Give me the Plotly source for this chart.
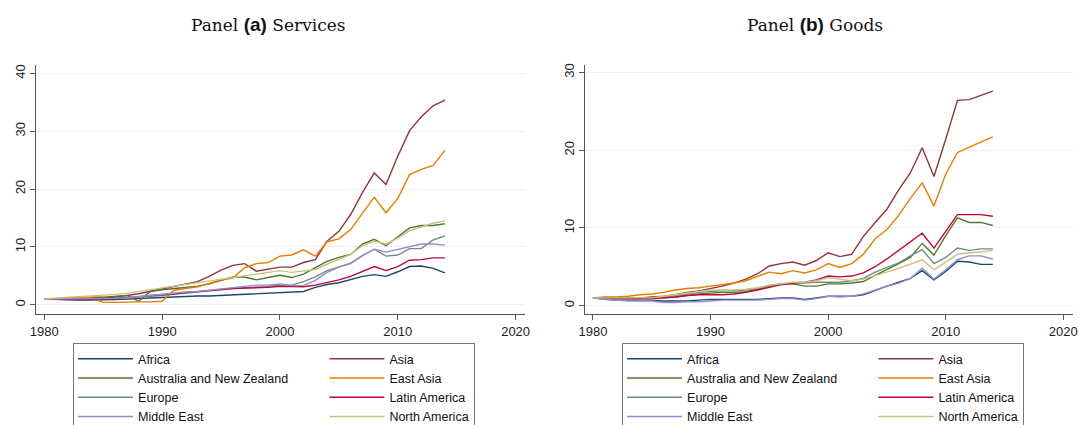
import plotly.graph_objects as go

years = list(range(1980, 2015))

regions = ["Africa", "Asia", "Australia and New Zealand", "East Asia",
           "Europe", "Latin America", "Middle East", "North America"]

colors = ["#1a476f", "#90353b", "#55752f", "#e37e00",
          "#6e8e84", "#c10534", "#938dd2", "#cac27e"]

# Panel (a): services, index 1980 = 1
svc_africa = [1.0, 0.9, 0.8, 0.8, 0.8, 0.8, 0.9, 1.0, 1.1, 1.2, 1.3, 1.3, 1.4, 1.5, 1.5, 1.6, 1.7, 1.8,
              1.9, 2.0, 2.0, 2.1, 2.3, 3.0, 3.5, 3.8, 4.4, 4.9, 5.2, 4.9, 5.7, 6.6, 6.7, 6.3, 5.5]
svc_asia = [1.0, 1.0, 0.9, 0.9, 1.0, 1.1, 1.3, 1.6, 1.9, 2.3, 2.7, 3.1, 3.5, 4.0, 4.9, 6.0, 6.8, 7.1,
            5.8, 6.2, 6.5, 6.5, 7.3, 7.8, 11.0, 12.7, 15.6, 19.4, 22.8, 20.8, 25.7, 30.1, 32.5, 34.4, 35.4]
svc_anz = [1.0, 1.1, 1.1, 1.2, 1.3, 1.3, 1.4, 1.6, 0.6, 2.3, 2.6, 2.8, 3.0, 3.2, 3.6, 4.2, 4.8, 4.8,
           4.3, 4.7, 5.1, 4.7, 5.3, 6.4, 7.5, 8.2, 8.7, 10.5, 11.3, 10.2, 11.8, 13.3, 13.7, 13.7, 14.0]
svc_eastasia = [1.0, 1.1, 1.2, 1.2, 1.2, 0.4, 0.4, 0.5, 0.5, 0.5, 0.6, 2.5, 2.8, 3.1, 3.7, 4.3, 4.6, 6.4,
                7.1, 7.3, 8.4, 8.6, 9.5, 8.4, 10.9, 11.4, 13.0, 15.8, 18.6, 15.9, 18.4, 22.5, 23.4, 24.1, 26.7]
svc_europe = [1.0, 1.0, 1.0, 1.0, 1.0, 1.1, 1.1, 1.2, 1.3, 1.4, 1.6, 1.8, 2.0, 2.2, 2.4, 2.7, 2.8, 2.9,
              3.0, 3.2, 3.4, 3.4, 4.0, 4.8, 5.9, 6.5, 7.2, 8.5, 9.6, 8.4, 8.6, 9.7, 9.7, 11.2, 11.9]
svc_latam = [1.0, 0.9, 0.9, 0.9, 0.9, 1.0, 1.1, 1.2, 1.4, 1.6, 1.7, 1.9, 2.1, 2.3, 2.5, 2.6, 2.8, 2.9,
             2.9, 3.0, 3.2, 3.1, 3.1, 3.4, 3.8, 4.3, 4.9, 5.8, 6.6, 5.9, 6.6, 7.7, 7.8, 8.1, 8.1]
svc_mideast = [1.0, 1.0, 1.0, 1.0, 1.0, 1.1, 1.1, 1.2, 1.4, 1.6, 1.9, 2.0, 2.2, 2.3, 2.5, 2.7, 2.9, 3.1,
               3.4, 3.4, 3.6, 3.3, 3.3, 4.2, 5.6, 6.5, 7.1, 8.5, 9.6, 9.1, 9.6, 10.1, 10.5, 10.5, 10.3]
svc_namerica = [1.0, 1.2, 1.3, 1.4, 1.5, 1.6, 1.8, 2.0, 2.3, 2.6, 2.9, 3.2, 3.4, 3.7, 4.0, 4.3, 4.7, 5.0,
                5.3, 5.6, 5.9, 5.6, 5.8, 6.1, 7.0, 7.9, 8.7, 10.2, 11.0, 10.5, 11.5, 12.8, 13.5, 14.1, 14.5]

# Panel (b): goods, index 1980 = 1
gds_africa = [1.0, 0.8, 0.7, 0.7, 0.7, 0.7, 0.6, 0.6, 0.6, 0.7, 0.8, 0.8, 0.8, 0.8, 0.8, 0.9, 1.0, 1.0,
              0.8, 1.0, 1.2, 1.2, 1.2, 1.4, 2.0, 2.5, 3.0, 3.5, 4.5, 3.3, 4.4, 5.7, 5.6, 5.3, 5.3]
gds_asia = [1.0, 1.0, 1.0, 1.0, 1.0, 1.1, 1.2, 1.4, 1.7, 1.9, 2.2, 2.5, 2.9, 3.4, 4.1, 5.1, 5.4, 5.6,
            5.2, 5.8, 6.8, 6.3, 6.6, 8.9, 10.7, 12.4, 14.9, 17.1, 20.3, 16.6, 21.4, 26.4, 26.5, 27.1, 27.6]
gds_anz = [1.0, 1.0, 0.9, 0.9, 0.9, 1.0, 1.0, 1.1, 1.3, 1.5, 1.6, 1.7, 1.7, 1.8, 2.1, 2.5, 2.7, 2.8,
           2.5, 2.5, 2.8, 2.8, 2.9, 3.1, 3.9, 4.6, 5.4, 6.2, 8.0, 6.5, 9.0, 11.3, 10.7, 10.7, 10.3]
gds_eastasia = [1.0, 1.1, 1.1, 1.2, 1.4, 1.5, 1.7, 2.0, 2.2, 2.3, 2.5, 2.7, 2.9, 3.2, 3.7, 4.3, 4.1, 4.5,
                4.2, 4.6, 5.4, 4.9, 5.4, 6.6, 8.6, 9.8, 11.6, 13.8, 15.8, 12.8, 16.9, 19.7, 20.4, 21.0, 21.7]
gds_europe = [1.0, 1.0, 1.0, 1.0, 1.0, 1.0, 1.1, 1.3, 1.5, 1.7, 1.8, 1.9, 1.9, 2.0, 2.2, 2.6, 2.8, 2.9,
              2.9, 3.0, 3.0, 3.0, 3.2, 3.5, 4.3, 4.9, 5.5, 6.4, 7.2, 5.4, 6.2, 7.4, 7.1, 7.3, 7.3]
gds_latam = [1.0, 1.0, 0.9, 0.9, 0.9, 0.9, 1.0, 1.1, 1.3, 1.4, 1.4, 1.4, 1.5, 1.7, 2.0, 2.4, 2.7, 2.9,
             3.0, 3.3, 3.8, 3.7, 3.8, 4.2, 5.0, 6.0, 7.1, 8.2, 9.3, 7.4, 9.5, 11.7, 11.7, 11.7, 11.5]
gds_mideast = [1.0, 0.8, 0.7, 0.6, 0.6, 0.6, 0.4, 0.4, 0.5, 0.5, 0.6, 0.7, 0.7, 0.7, 0.7, 0.8, 0.9, 0.9,
               0.7, 0.9, 1.2, 1.1, 1.2, 1.5, 2.0, 2.5, 2.9, 3.5, 4.8, 3.4, 4.6, 5.9, 6.4, 6.4, 6.0]
gds_namerica = [1.0, 1.0, 1.0, 1.0, 1.0, 1.0, 1.2, 1.4, 1.6, 1.8, 2.0, 2.0, 2.0, 2.1, 2.3, 2.6, 2.8, 3.0,
                3.0, 3.2, 3.6, 3.4, 3.2, 3.4, 3.8, 4.3, 4.8, 5.4, 5.9, 4.6, 5.6, 6.6, 6.8, 6.9, 7.1]

services = [svc_africa, svc_asia, svc_anz, svc_eastasia, svc_europe, svc_latam, svc_mideast, svc_namerica]
goods = [gds_africa, gds_asia, gds_anz, gds_eastasia, gds_europe, gds_latam, gds_mideast, gds_namerica]

x_ticks = [1980, 1990, 2000, 2010, 2020]
svc_ticks = [0, 10, 20, 30, 40]
gds_ticks = [0, 10, 20, 30]

# left legend column gets extra room before the right column starts
col_pad = "\u00a0" * 9

fig = go.Figure()

for panel, (series, xa, ya, leg) in enumerate([(services, "x", "y", "legend"),
                                              (goods, "x2", "y2", "legend2")]):
    for i, (name, col, vals) in enumerate(zip(regions, colors, series)):
        label = name + col_pad if name == "Australia and New Zealand" else name
        fig.add_trace(go.Scatter(
            x=years, y=vals, name=label, mode="lines",
            line=dict(color=col, width=1.4),
            xaxis=xa, yaxis=ya, legend=leg,
            # two legend columns: left column holds even entries, right column odd
            legendgroup=f"p{panel}c{i % 2}",
        ))

axis_font = dict(family="Liberation Sans, Arial, sans-serif", size=13, color="#222")
grid_col = "#e8f2f3"
axis_col = "#555555"

common_x = dict(tickvals=x_ticks, showgrid=False, zeroline=False, showline=True,
                linecolor=axis_col, linewidth=1, ticks="outside", ticklen=5,
                tickcolor=axis_col, tickfont=axis_font)
common_y = dict(showgrid=True, gridcolor=grid_col, gridwidth=1, zeroline=False,
                showline=True, linecolor=axis_col, linewidth=1, ticks="outside",
                ticklen=5, tickcolor=axis_col, tickfont=axis_font, tickangle=-90)

leg_common = dict(orientation="h", traceorder="grouped", xanchor="left", yanchor="top",
                  y=0.1925, bgcolor="white", bordercolor="#777", borderwidth=1,
                  font=dict(family="Liberation Sans, Arial, sans-serif", size=12.5, color="#111"),
                  itemwidth=55, entrywidth=0, tracegroupgap=0, itemclick=False)

title_font = dict(family="DejaVu Serif, Liberation Serif, serif", size=17, color="#111")
bold = ('<span style="font-family:Liberation Sans, Arial, sans-serif;'
        'font-weight:bold;font-size:19px">')

fig.update_layout(
    width=1079, height=425,
    margin=dict(l=0, r=0, t=0, b=0, autoexpand=False),
    paper_bgcolor="white", plot_bgcolor="white",
    showlegend=True,
    xaxis=dict(domain=[0.0331, 0.4866], range=[1979.27, 2020.8], anchor="y", **common_x),
    yaxis=dict(domain=[0.2612, 0.847], range=[-1.6, 41.45], tickvals=svc_ticks,
               anchor="x", **common_y),
    xaxis2=dict(domain=[0.5422, 0.9944], range=[1979.33, 2020.82], anchor="y2", **common_x),
    yaxis2=dict(domain=[0.2612, 0.847], range=[-1.08, 30.95], tickvals=gds_ticks,
                anchor="x2", **common_y),
    legend=dict(x=0.0677, **leg_common),
    legend2=dict(x=0.5765, **leg_common),
    annotations=[
        dict(text=f"Panel {bold}(a)</span> Services", x=268 / 1079, y=0.9435,
             xref="paper", yref="paper", showarrow=False, font=title_font,
             xanchor="center", yanchor="middle"),
        dict(text=f"Panel {bold}(b)</span> Goods", x=815 / 1079, y=0.9435,
             xref="paper", yref="paper", showarrow=False, font=title_font,
             xanchor="center", yanchor="middle"),
    ],
)

fig.write_html("out.html")
